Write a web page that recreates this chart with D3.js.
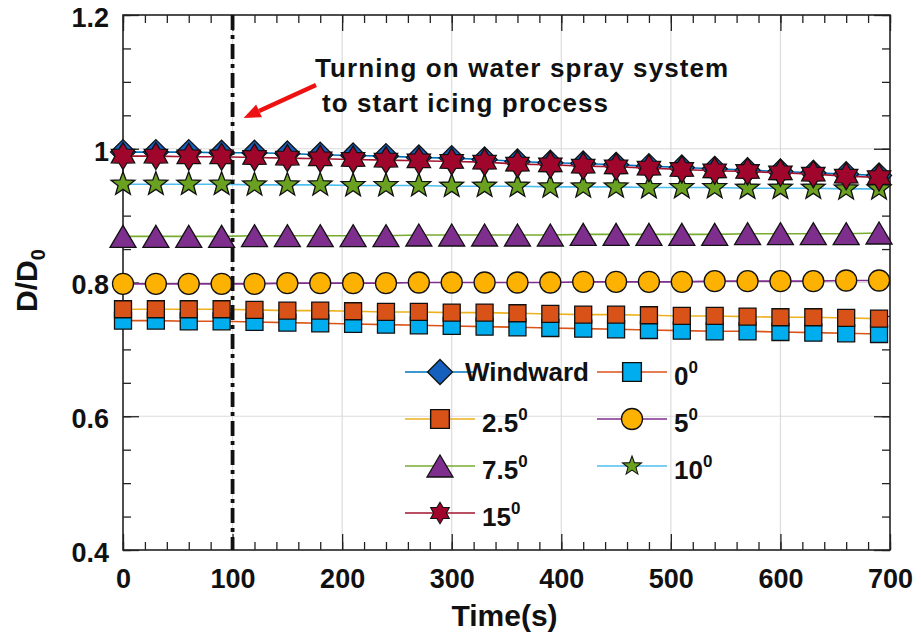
<!DOCTYPE html>
<html>
<head>
<meta charset="utf-8">
<script src="https://cdn.jsdelivr.net/npm/d3@7"></script>
<style>
  body { margin: 0; background: #fff; }
  svg text { font-family: "Liberation Sans", Arial, sans-serif; font-weight: bold; fill: #111; }
</style>
</head>
<body>
<div id="chart"></div>
<script>
// ---- data ----
const times = [0, 30, 60, 90, 120, 150, 180, 210, 240, 270, 300, 330, 360, 390, 420, 450, 480, 510, 540, 570, 600, 630, 660, 690];
const windward = [0.995, 0.995, 0.995, 0.994, 0.994, 0.993, 0.991, 0.990, 0.989, 0.987, 0.986, 0.984, 0.981, 0.979, 0.978, 0.976, 0.974, 0.972, 0.970, 0.968, 0.966, 0.964, 0.962, 0.960];
const deg0 = [0.743, 0.743, 0.742, 0.742, 0.741, 0.740, 0.739, 0.738, 0.737, 0.736, 0.735, 0.734, 0.733, 0.732, 0.731, 0.730, 0.729, 0.728, 0.727, 0.727, 0.726, 0.725, 0.724, 0.723];
const deg2_5 = [0.760, 0.760, 0.760, 0.760, 0.759, 0.758, 0.758, 0.757, 0.756, 0.756, 0.755, 0.755, 0.754, 0.753, 0.752, 0.752, 0.751, 0.750, 0.750, 0.749, 0.748, 0.748, 0.747, 0.746];
const deg5 = [0.798, 0.798, 0.798, 0.798, 0.798, 0.799, 0.799, 0.799, 0.799, 0.800, 0.800, 0.800, 0.800, 0.800, 0.801, 0.801, 0.801, 0.801, 0.802, 0.802, 0.802, 0.802, 0.803, 0.803];
const deg7_5 = [0.869, 0.869, 0.869, 0.869, 0.870, 0.870, 0.870, 0.870, 0.870, 0.871, 0.871, 0.871, 0.871, 0.871, 0.872, 0.872, 0.872, 0.872, 0.872, 0.873, 0.873, 0.873, 0.873, 0.874];
const deg10 = [0.947, 0.947, 0.947, 0.947, 0.946, 0.946, 0.946, 0.945, 0.945, 0.945, 0.944, 0.944, 0.944, 0.943, 0.943, 0.943, 0.942, 0.942, 0.942, 0.941, 0.941, 0.941, 0.940, 0.940];
const deg15 = [0.989, 0.989, 0.988, 0.988, 0.987, 0.986, 0.985, 0.984, 0.983, 0.982, 0.981, 0.980, 0.977, 0.976, 0.974, 0.973, 0.971, 0.969, 0.967, 0.966, 0.964, 0.962, 0.959, 0.957];

const seriesNames = ['Windward', '0', '2.5', '5', '7.5', '10', '15'];
const seriesValues = [windward, deg0, deg2_5, deg5, deg7_5, deg10, deg15];
const xTicks = [0, 100, 200, 300, 400, 500, 600, 700];
const yTicks = [0.4, 0.6, 0.8, 1.0, 1.2];
const yTickLabels = ['0.4', '0.6', '0.8', '1', '1.2'];
const startTime = 100;
const noteLines = ['Turning on water spray system', 'to start icing process'];

// ---- styles ----
const lineColors = ['#0072BD', '#D95319', '#EDB120', '#7E2F8E', '#77AC30', '#4DBEEE', '#A2142F'];
const fillColors = ['#1560BD', '#00AEEF', '#D95319', '#FDB100', '#7E2F8E', '#6AA121', '#A0062B'];
const shapes = ['diamond', 'square', 'square', 'circle', 'triangle', 'pentagram', 'hexagram'];

const W = 921, H = 637;
const margin = { top: 15, right: 31, bottom: 87, left: 123 };
const w = W - margin.left - margin.right;
const h = H - margin.top - margin.bottom;

const xScale = d3.scaleLinear().domain([0, 700]).range([0, w]);
const yScale = d3.scaleLinear().domain([0.4, 1.2]).range([h, 0]);

const root = d3.select('#chart').append('svg')
  .attr('width', W)
  .attr('height', H);

const svg = root.append('g')
  .attr('transform', `translate(${margin.left}, ${margin.top})`);

// marker path generator, centred at 0,0
function markerPath(shape) {
  if (shape === 'diamond') {
    return 'M0,-12.5L12.5,0L0,12.5L-12.5,0Z';
  }
  if (shape === 'square') {
    return 'M-8.5,-8.5H8.5V8.5H-8.5Z';
  }
  if (shape === 'circle') {
    return d3.symbol(d3.symbolCircle, Math.PI * 10.5 * 10.5)();
  }
  if (shape === 'triangle') {
    return 'M0,-11L13,11L-13,11Z';
  }
  const pts = shape === 'pentagram' ? 5 : 6;
  const rOut = shape === 'pentagram' ? 12.5 : 13.5;
  const rIn = shape === 'pentagram' ? 5.2 : 8;
  const p = d3.path();
  for (let k = 0; k < pts * 2; k++) {
    const r = k % 2 === 0 ? rOut : rIn;
    const a = -Math.PI / 2 + k * Math.PI / pts;
    if (k === 0) p.moveTo(r * Math.cos(a), r * Math.sin(a));
    else p.lineTo(r * Math.cos(a), r * Math.sin(a));
  }
  p.closePath();
  return p.toString();
}

// grid
svg.append('g')
  .selectAll('line')
  .data(xTicks.slice(1, -1))
  .enter().append('line')
  .attr('x1', d => xScale(d)).attr('x2', d => xScale(d))
  .attr('y1', 0).attr('y2', h)
  .attr('stroke', '#dcdcdc').attr('stroke-width', 1.2);

svg.append('g')
  .selectAll('line')
  .data(yTicks.slice(1, -1))
  .enter().append('line')
  .attr('x1', 0).attr('x2', w)
  .attr('y1', d => yScale(d)).attr('y2', d => yScale(d))
  .attr('stroke', '#dcdcdc').attr('stroke-width', 1.2);

// axes with inward ticks (box on)
const xMinor = d3.range(0, 701, 20);
const yMinor = d3.range(0.4, 1.2001, 0.05);

function tickAxis(axisFn, scale, vals, size, translate) {
  const g = svg.append('g')
    .attr('transform', translate)
    .call(axisFn(scale).tickValues(vals).tickSize(size).tickFormat(''));
  g.select('.domain').remove();
  g.selectAll('.tick line').attr('stroke', '#222').attr('stroke-width', 1.3);
  return g;
}
// bottom / top
tickAxis(d3.axisTop, xScale, xMinor, 8, `translate(0, ${h})`);
tickAxis(d3.axisTop, xScale, xTicks, 16, `translate(0, ${h})`);
tickAxis(d3.axisBottom, xScale, xMinor, 8, 'translate(0, 0)');
tickAxis(d3.axisBottom, xScale, xTicks, 16, 'translate(0, 0)');
// left / right
tickAxis(d3.axisRight, yScale, yMinor, 8, 'translate(0, 0)');
tickAxis(d3.axisRight, yScale, yTicks, 16, 'translate(0, 0)');
tickAxis(d3.axisLeft, yScale, yMinor, 8, `translate(${w}, 0)`);
tickAxis(d3.axisLeft, yScale, yTicks, 16, `translate(${w}, 0)`);

// tick labels
const xAxis = svg.append('g')
  .attr('transform', `translate(0, ${h})`)
  .call(d3.axisBottom(xScale).tickValues(xTicks).tickSize(0).tickPadding(14));
xAxis.select('.domain').remove();
xAxis.selectAll('text').style('font-size', '27px').attr('dy', '0.88em');

const yAxis = svg.append('g')
  .call(d3.axisLeft(yScale).tickValues(yTicks).tickSize(0).tickPadding(14)
    .tickFormat((d, i) => yTickLabels[i]));
yAxis.select('.domain').remove();
yAxis.selectAll('text').style('font-size', '27px').attr('dy', '0.42em');

// box
svg.append('rect')
  .attr('width', w).attr('height', h)
  .attr('fill', 'none')
  .attr('stroke', '#222')
  .attr('stroke-width', 1.6);

// series
const line = d3.line()
  .x(d => xScale(d[0]))
  .y(d => yScale(d[1]));

seriesValues.forEach(function(vals, i) {
  const pts = times.map((t, j) => [t, vals[j]]);
  const g = svg.append('g').attr('class', 'series');
  g.append('path')
    .datum(pts)
    .attr('d', line)
    .attr('fill', 'none')
    .attr('stroke', lineColors[i])
    .attr('stroke-width', 1.6);
  g.selectAll('path.mk')
    .data(pts)
    .enter().append('path')
    .attr('class', 'mk')
    .attr('d', markerPath(shapes[i]))
    .attr('transform', d => `translate(${xScale(d[0])}, ${yScale(d[1])})`)
    .attr('fill', fillColors[i])
    .attr('stroke', '#111')
    .attr('stroke-width', 1.3);
});

// dash-dot line at water spray start
svg.append('line')
  .attr('x1', xScale(startTime)).attr('x2', xScale(startTime))
  .attr('y1', 0).attr('y2', h)
  .attr('stroke', '#111')
  .attr('stroke-width', 3.8)
  .attr('stroke-dasharray', '15,5,4,5');

// annotation
const note = svg.append('text')
  .attr('x', 192)
  .attr('y', 62)
  .style('font-size', '26px')
  .style('letter-spacing', '1.1px');
note.selectAll('tspan')
  .data(noteLines)
  .enter().append('tspan')
  .attr('x', (d, i) => 192 + i * 7)
  .attr('dy', (d, i) => i === 0 ? 0 : 35)
  .text(d => d);

// red arrow
const ax0 = 193, ay0 = 70, ax1 = xScale(startTime) + 11, ay1 = 103;
const ang = Math.atan2(ay1 - ay0, ax1 - ax0);
const headLen = 17, headW = 7;
const bx = ax1 - headLen * Math.cos(ang), by = ay1 - headLen * Math.sin(ang);
svg.append('line')
  .attr('x1', ax0).attr('y1', ay0)
  .attr('x2', bx).attr('y2', by)
  .attr('stroke', '#ee1111')
  .attr('stroke-width', 4.5);
svg.append('path')
  .attr('d', `M${ax1},${ay1}L${bx + headW * Math.sin(ang)},${by - headW * Math.cos(ang)}L${bx - headW * Math.sin(ang)},${by + headW * Math.cos(ang)}Z`)
  .attr('fill', '#ee1111');

// axis labels
svg.append('text')
  .attr('x', w / 2 - 2)
  .attr('y', h + 76)
  .attr('text-anchor', 'middle')
  .style('font-size', '30px')
  .text('Time(s)');

const yl = svg.append('text')
  .attr('transform', `translate(${-86}, ${yScale(0.8) - 2}) rotate(-90)`)
  .attr('text-anchor', 'middle')
  .style('font-size', '30px');
yl.append('tspan').text('D/D');
yl.append('tspan').attr('dy', 8).style('font-size', '20px').text('0');

// legend
const legend = svg.selectAll('g.legend')
  .data(seriesNames)
  .enter().append('g')
  .attr('class', 'legend')
  .attr('transform', (d, i) => `translate(${282 + (i % 2) * 192}, ${357 + Math.floor(i / 2) * 47})`);

legend.append('line')
  .attr('x1', 0).attr('x2', 70)
  .attr('stroke', (d, i) => lineColors[i])
  .attr('stroke-width', 1.6);

legend.append('path')
  .attr('d', (d, i) => markerPath(shapes[i]))
  .attr('transform', (d, i) => i === 6 || i === 5 ? 'translate(35,0) scale(0.8)' : (i === 1 || i === 2 ? 'translate(35,0) scale(1.1)' : 'translate(35,0)'))
  .attr('fill', (d, i) => fillColors[i])
  .attr('stroke', '#111')
  .attr('stroke-width', 1.3);

const labels = legend.append('text')
  .attr('x', (d, i) => i === 0 ? 60 : 77)
  .attr('y', (d, i) => i === 0 ? 9 : 13)
  .style('font-size', '26px');
labels.append('tspan').text(d => d);
labels.filter((d, i) => i > 0)
  .append('tspan')
  .attr('dy', -12)
  .style('font-size', '17px')
  .text('0');
</script>
</body>
</html>
